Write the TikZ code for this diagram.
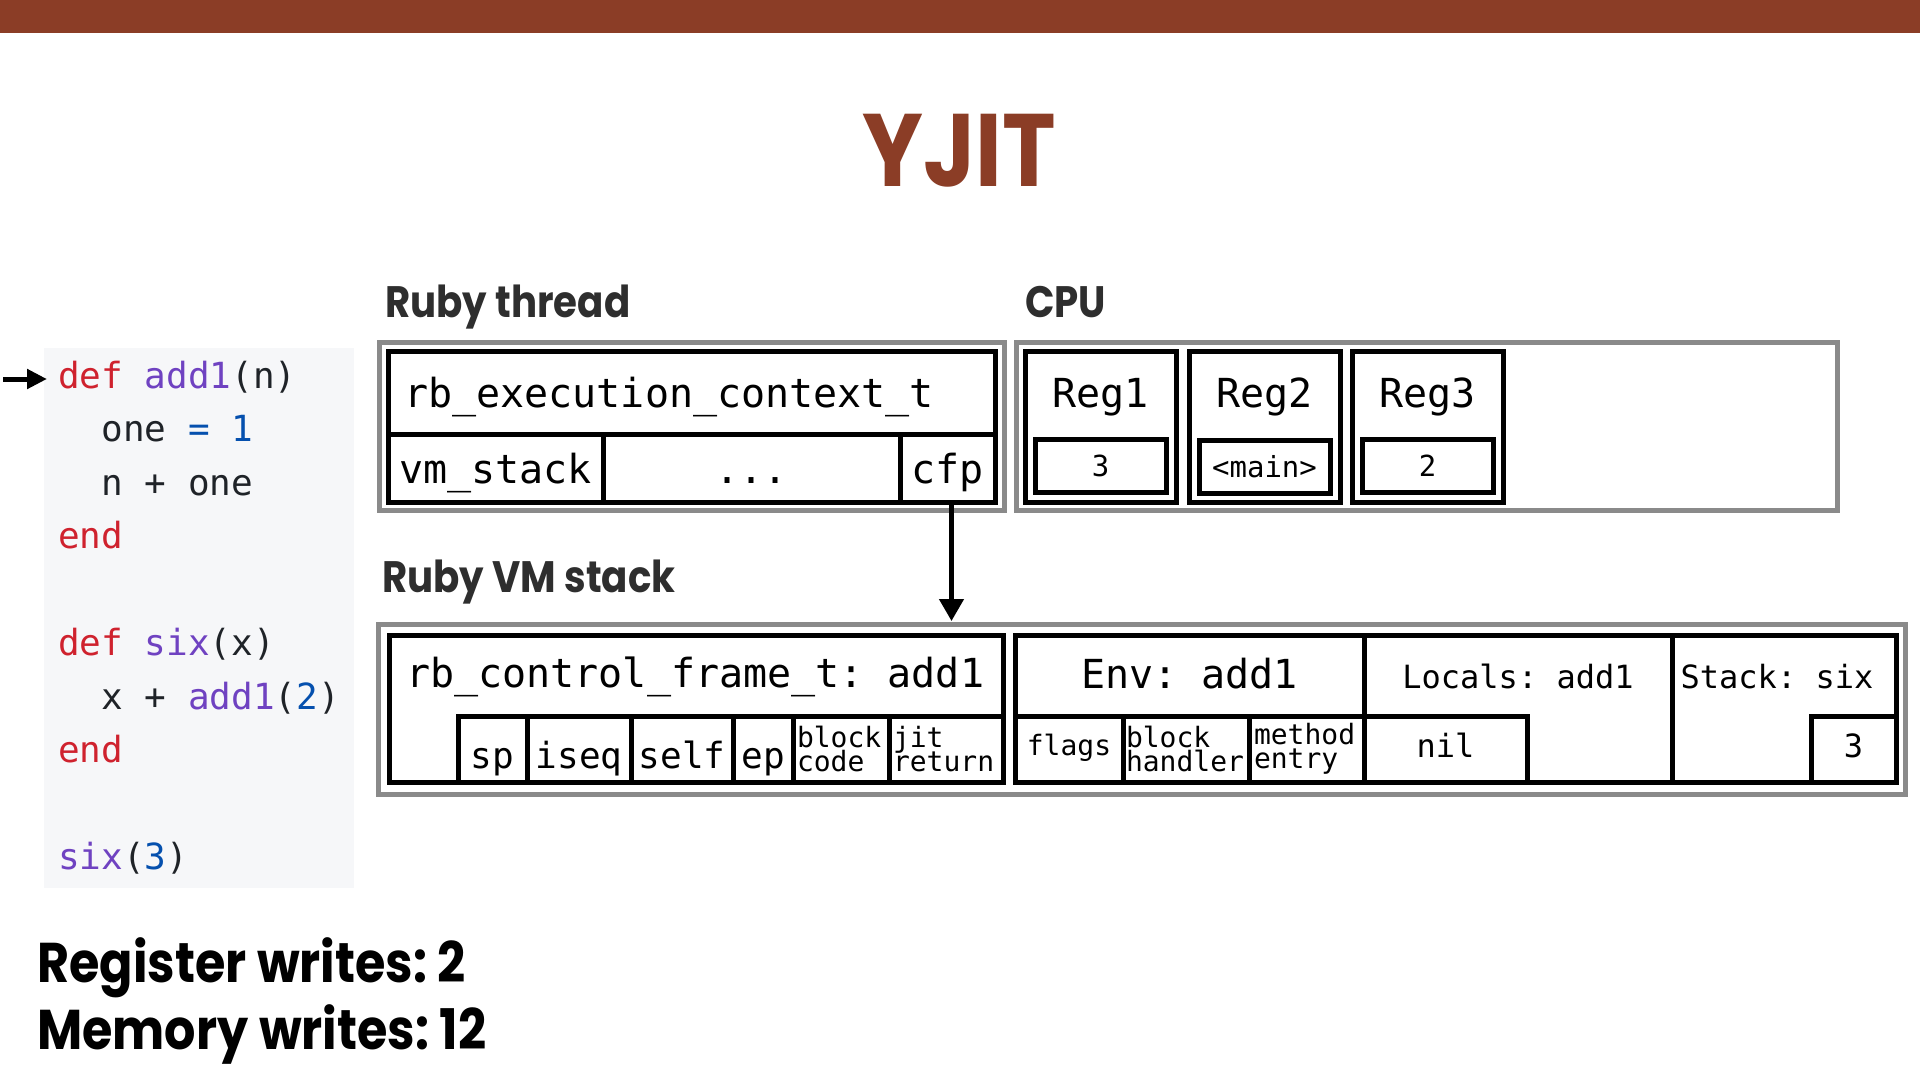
\documentclass[tikz,border=0pt]{standalone}
\usepackage{fontspec}
\usepackage{tikz}
\usetikzlibrary{arrows.meta}

\newfontfamily\headfont[FakeStretch=0.88]{Poppins}
\newfontfamily\boxmono{DejaVu Sans Mono}

\definecolor{yjitbrown}{HTML}{8B3D26}
\definecolor{framegray}{HTML}{8A8A8A}
\definecolor{headgray}{HTML}{2E2E2E}
\definecolor{codebg}{HTML}{F6F7F9}
\definecolor{rbred}{HTML}{CF222E}
\definecolor{rbpurple}{HTML}{6F42C1}
\definecolor{rbblue}{HTML}{0550AE}
\definecolor{rbtext}{HTML}{1F2328}

\frenchspacing

\begin{document}
\begin{tikzpicture}[x=1pt,y=-1pt,
    box/.style 2 args={minimum width=#1,minimum height=#2},
    outer/.style={draw=framegray,line width=5pt,inner sep=0pt,outer sep=0pt,anchor=north west},
    cell/.style={draw=black,line width=5pt,inner sep=0pt,outer sep=0pt,anchor=north west,
        font=\fontsize{40}{40}\boxmono,text height=30pt,text depth=0pt},
    field/.style={cell,font=\fontsize{36}{36}\boxmono,text height=38pt},
    small/.style={cell,font=\fontsize{28}{28}\boxmono,text height=12pt},
    mid/.style={cell,font=\fontsize{32}{32}\boxmono,text height=16pt},
    val/.style={cell,font=\fontsize{29}{29}\boxmono,text height=21pt},
    twoline/.style={cell,font={\fontsize{28}{24}\boxmono\lineskiplimit=-100pt},
        text height=,text depth=,align=left},
    mono/.style={font=\fontsize{40}{40}\boxmono,inner sep=0pt},
    head/.style={font=\fontsize{44}{44}\headfont\bfseries,text=headgray,anchor=base west,inner sep=0pt},
    bighead/.style={font=\fontsize{56}{56}\headfont\bfseries,text=black,anchor=base west,inner sep=0pt},
    code/.style={font=\fontsize{36}{36}\boxmono,text=rbtext,anchor=base west,inner sep=0pt},
    ptr/.style={-{Triangle[width=24pt,length=22pt]},line width=4.5pt}]
    \useasboundingbox (0,0) rectangle (1920,1080);
    \fill[white] (0,0) rectangle (1920,1080);
    \fill[yjitbrown] (0,0) rectangle (1920,33);
    \node[anchor=base,inner sep=0pt,text=yjitbrown,font=\fontsize{103}{103}\headfont\bfseries] (title) at (959,186) {YJIT};

    % source listing
    \fill[codebg] (44,348) rectangle (354,888);
    \node[code] (c1) at (58,388) {\textcolor{rbred}{def} \textcolor{rbpurple}{add1}(n)};
    \node[code] (c2) at (58,441.5) {\phantom{xx}one \textcolor{rbblue}{= 1}};
    \node[code] (c3) at (58,495) {\phantom{xx}n + one};
    \node[code] (c4) at (58,548.5) {\textcolor{rbred}{end}};
    \node[code] (c5) at (58,655.5) {\textcolor{rbred}{def} \textcolor{rbpurple}{six}(x)};
    \node[code] (c6) at (58,709) {\phantom{xx}x + \textcolor{rbpurple}{add1}(\textcolor{rbblue}{2})};
    \node[code] (c7) at (58,762.5) {\textcolor{rbred}{end}};
    \node[code] (c8) at (58,869.5) {\textcolor{rbpurple}{six}(\textcolor{rbblue}{3})};
    \coordinate (pc) at (3,379);
    \draw[-{Triangle[width=19pt,length=20pt]},line width=5pt,shorten >=11pt] (pc) -- (pc -| c1.west);

    % Ruby thread
    \node[head] (threadlbl) at (385,317) {Ruby thread};
    \node[outer,box={625}{168}] (thread) at (379,342) {};
    \node[cell,box={607}{151}] (ec) at (388,351) {};
    \node[mono,anchor=base west] (ecname) at (404,407) {rb\_execution\_context\_t};
    \node[cell,box={215}{68}] (vmstk) at (388,434) {vm\_stack};
    \node[cell,box={297}{68}] (etc) at (603,434) {...\hspace{12pt}};
    \node[cell,box={95}{68}] (cfp) at (900,434) {cfp};

    % CPU
    \node[head] (cpulbl) at (1025,317) {CPU};
    \node[outer,box={821}{168}] (cpu) at (1016,342) {};
    \node[cell,box={151}{151}] (reg1) at (1025,351) {};
    \node[cell,box={151}{151}] (reg2) at (1189,351) {};
    \node[cell,box={151}{151}] (reg3) at (1352,351) {};
    \node[mono,anchor=base] (reg1name) at (1100.5,407) {Reg1};
    \node[mono,anchor=base] (reg2name) at (1264.5,407) {Reg2};
    \node[mono,anchor=base] (reg3name) at (1427.5,407) {Reg3};
    \node[val,box={131}{53}] (reg1val) at (1035,439) {3};
    \node[val,box={131}{53}] (reg2val) at (1199,440) {<main>};
    \node[val,box={131}{53}] (reg3val) at (1362,439) {2};

    % Ruby VM stack
    \node[head] (stacklbl) at (382,592) {Ruby VM stack};
    \node[outer,box={1527}{170}] (vmstack) at (378,624) {};
    \node[cell,box={614}{147}] (cf) at (389,635) {};
    \node[mono,anchor=base west] (cfname) at (406,687) {rb\_control\_frame\_t: add1};
    \node[field,box={69}{66}] (sp) at (458,716) {sp};
    \node[field,box={104}{66}] (iseq) at (527,716) {iseq};
    \node[field,box={102}{66}] (self) at (631,716) {self};
    \node[field,box={60}{66}] (ep) at (733,716) {ep};
    \node[twoline,box={96}{66},text width=88pt] (blockcode) at (793,716) {block\\code};
    \node[twoline,box={114}{66},text width=106pt] (jitret) at (889,716) {jit\\return};

    \node[cell,box={349}{147}] (env) at (1015,635) {};
    \node[mono,anchor=base] (envname) at (1189.5,688) {Env: add1};
    \node[small,box={108}{66}] (flags) at (1015,716) {flags};
    \node[twoline,box={126}{66},text width=120pt] (handler) at (1123,716) {block\\handler};
    \node[twoline,box={115}{66},text width=105pt] (entry) at (1249,716) {method\\entry};

    \node[cell,box={308}{147}] (locals) at (1364,635) {};
    \node[mono,anchor=base,font=\fontsize{32}{32}\boxmono] (localsname) at (1518,688) {Locals: add1};
    \node[mid,box={163}{66}] (nil) at (1364,716) {nil};

    \node[cell,box={224}{147}] (stk) at (1672,635) {};
    \node[mono,anchor=base,font=\fontsize{32}{32}\boxmono] (stkname) at (1777,688) {Stack: six};
    \node[mid,box={85}{66}] (stkval) at (1811,716) {3};

    \draw[ptr,shorten >=3pt] ([xshift=4pt]cfp.south) -- ([xshift=4pt]cfp.south |- vmstack.north);

    \node[bighead] (regwrites) at (37,982) {Register writes: 2};
    \node[bighead] (memwrites) at (37,1049) {Memory writes: 12};
\end{tikzpicture}
\end{document}
